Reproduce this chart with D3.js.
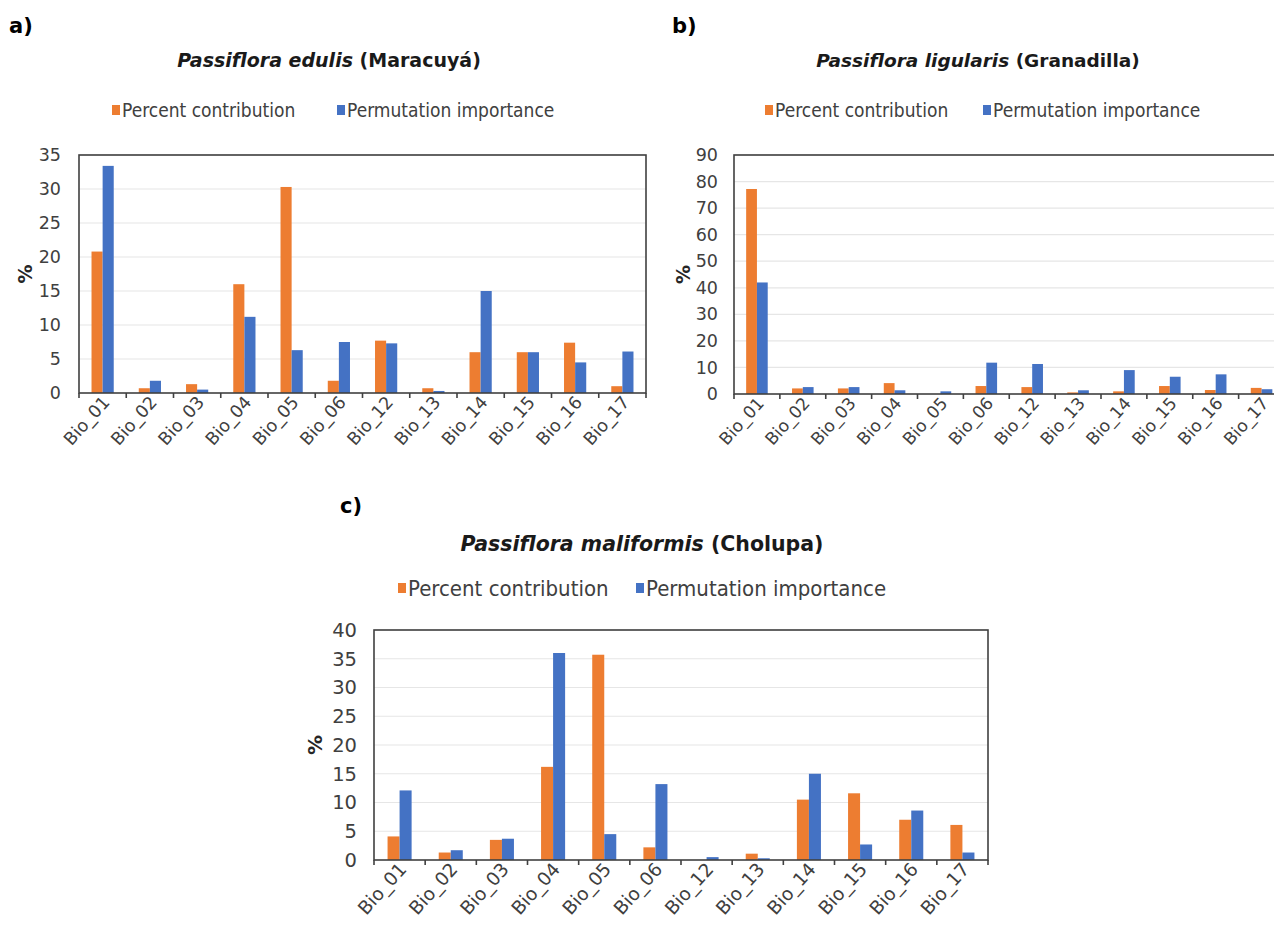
<!DOCTYPE html>
<html>
<head>
<meta charset="utf-8">
<script src="https://cdn.jsdelivr.net/npm/d3@7"></script>
<style>
  html, body { margin: 0; padding: 0; background: #ffffff; }
  svg { display: block; }
</style>
</head>
<body>
<svg id="chart" width="1274" height="932"></svg>
<script>
// ---------- DATA ----------
const categories = ["Bio_01","Bio_02","Bio_03","Bio_04","Bio_05","Bio_06","Bio_12","Bio_13","Bio_14","Bio_15","Bio_16","Bio_17"];
const seriesNames = ["Percent contribution", "Permutation importance"];

// a) Passiflora edulis (Maracuyá)
const edulisContribution = [20.8, 0.7, 1.3, 16.0, 30.3, 1.8, 7.7, 0.7, 6.0, 6.0, 7.4, 1.0];
const edulisPermutation  = [33.4, 1.8, 0.5, 11.2, 6.3, 7.5, 7.3, 0.3, 15.0, 6.0, 4.5, 6.1];
const edulisTicks = [0, 5, 10, 15, 20, 25, 30, 35];

// b) Passiflora ligularis (Granadilla)
const ligularisContribution = [77.2, 2.1, 2.1, 4.1, 0.0, 3.0, 2.6, 0.6, 1.0, 3.0, 1.5, 2.3];
const ligularisPermutation  = [42.0, 2.6, 2.6, 1.4, 1.0, 11.8, 11.3, 1.4, 9.0, 6.5, 7.4, 1.8];
const ligularisTicks = [0, 10, 20, 30, 40, 50, 60, 70, 80, 90];

// c) Passiflora maliformis (Cholupa)
const maliformisContribution = [4.1, 1.3, 3.5, 16.2, 35.7, 2.2, 0.0, 1.1, 10.5, 11.6, 7.0, 6.1];
const maliformisPermutation  = [12.1, 1.7, 3.7, 36.0, 4.5, 13.2, 0.5, 0.3, 15.0, 2.7, 8.6, 1.3];
const maliformisTicks = [0, 5, 10, 15, 20, 25, 30, 35, 40];

// ---------- STYLE ----------
const colors = ["#ED7D31", "#4472C4"];
const FONT = "'DejaVu Sans', Verdana, sans-serif";
const FONT_C = "'DejaVu Sans Condensed', 'DejaVu Sans', sans-serif";

const svg = d3.select("#chart");

function drawPanel(p) {
  const g = svg.append("g");
  const x = d3.scaleBand().domain(categories).range([p.left, p.right]).paddingInner(0).paddingOuter(0);
  const bw = x.bandwidth();
  const xs = d3.scaleBand().domain(seriesNames).range([bw * 0.265, bw * 0.735]).padding(0);
  const y = d3.scaleLinear().domain([0, d3.max(p.ticks)]).range([p.bottom, p.top]);

  // gridlines
  g.append("g").selectAll("line").data(p.ticks.filter(t => t > 0)).join("line")
    .attr("x1", p.left).attr("x2", p.right)
    .attr("y1", d => y(d)).attr("y2", d => y(d))
    .attr("stroke", "#e6e6e6").attr("stroke-width", 1.2);

  // bars
  const rows = categories.map((c, i) => ({ cat: c, vals: [p.contribution[i], p.permutation[i]] }));
  const grp = g.append("g").selectAll("g").data(rows).join("g")
    .attr("transform", d => `translate(${x(d.cat)},0)`);
  grp.selectAll("rect").data(d => d.vals.map((v, k) => ({ k, v }))).join("rect")
    .attr("x", d => xs(seriesNames[d.k]))
    .attr("width", xs.bandwidth())
    .attr("y", d => y(d.v))
    .attr("height", d => p.bottom - y(d.v))
    .attr("fill", d => colors[d.k]);

  // frame
  g.append("rect")
    .attr("x", p.left).attr("y", p.top)
    .attr("width", p.right - p.left).attr("height", p.bottom - p.top)
    .attr("fill", "none").attr("stroke", "#404040").attr("stroke-width", 1.6);

  // x ticks at band boundaries
  const bounds = categories.map(c => x(c)).concat([x.range()[1]]);
  g.append("g").selectAll("line").data(bounds).join("line")
    .attr("x1", d => d).attr("x2", d => d)
    .attr("y1", p.bottom).attr("y2", p.bottom + 5)
    .attr("stroke", "#404040").attr("stroke-width", 1.6);

  // x labels
  const xAxis = g.append("g").attr("transform", `translate(0,${p.bottom})`)
    .call(d3.axisBottom(x).tickSize(0).tickPadding(0));
  xAxis.select(".domain").remove();
  xAxis.selectAll("text")
    .attr("font-family", FONT).attr("font-size", p.xfs).attr("fill", "#404040")
    .attr("text-anchor", "end")
    .attr("y", 0).attr("dy", 0)
    .attr("transform", `translate(${p.xlx},${p.xly}) rotate(-48)`);

  // y axis labels
  const yAxis = g.append("g").attr("transform", `translate(${p.left},0)`)
    .call(d3.axisLeft(y).tickValues(p.ticks).tickSize(0).tickPadding(p.ypad).tickFormat(d3.format("d")));
  yAxis.select(".domain").remove();
  yAxis.selectAll("text").attr("font-family", FONT).attr("font-size", p.yfs).attr("fill", "#404040");

  // y title
  g.append("text")
    .attr("transform", `translate(${p.pctX},${(p.top + p.bottom) / 2}) rotate(-90)`)
    .attr("text-anchor", "middle").attr("dominant-baseline", "central")
    .attr("font-family", FONT).attr("font-weight", "bold").attr("font-size", p.pctfs)
    .attr("fill", "#262626").text("%");

  // panel letter
  g.append("text").attr("x", p.letterX).attr("y", p.letterY)
    .attr("font-family", FONT).attr("font-weight", "bold").attr("font-size", 21)
    .attr("fill", "#000").text(p.letter);

  // chart title
  const t = g.append("text").attr("x", p.titleX).attr("y", p.titleY)
    .attr("text-anchor", "middle")
    .attr("font-family", FONT).attr("font-weight", "bold").attr("font-size", p.titlefs).attr("fill", "#1a1a1a");
  t.append("tspan").attr("font-style", "italic").text(p.species);
  t.append("tspan").text(" " + p.common);

  // legend
  const lg = g.append("g");
  seriesNames.forEach((s, k) => {
    lg.append("rect").attr("x", p.legX[k]).attr("y", p.legY - 5)
      .attr("width", 8).attr("height", 10).attr("fill", colors[k]);
    lg.append("text").attr("x", p.legX[k] + 10).attr("y", p.legY)
      .attr("dominant-baseline", "central")
      .attr("font-family", FONT_C).attr("font-size", p.legfs).attr("fill", "#404040").text(s);
  });
}

drawPanel({
  letter: "a)", letterX: 9, letterY: 33,
  species: "Passiflora edulis", common: "(Maracuyá)", titleX: 329, titleY: 67, titlefs: 19,
  legX: [112, 337], legY: 110, legfs: 19,
  left: 79, right: 646, top: 155, bottom: 393,
  ticks: edulisTicks, contribution: edulisContribution, permutation: edulisPermutation,
  xfs: 17.5, xlx: 8, xly: 10, yfs: 17.5, ypad: 18, pctX: 25, pctfs: 19
});

drawPanel({
  letter: "b)", letterX: 672, letterY: 33,
  species: "Passiflora ligularis", common: "(Granadilla)", titleX: 978, titleY: 67, titlefs: 18.5,
  legX: [765, 983], legY: 110, legfs: 19,
  left: 734, right: 1284.5, top: 155, bottom: 394,
  ticks: ligularisTicks, contribution: ligularisContribution, permutation: ligularisPermutation,
  xfs: 17, xlx: 8, xly: 10, yfs: 17.5, ypad: 16, pctX: 683, pctfs: 19
});

drawPanel({
  letter: "c)", letterX: 340, letterY: 513,
  species: "Passiflora maliformis", common: "(Cholupa)", titleX: 642, titleY: 551, titlefs: 20.5,
  legX: [398, 636], legY: 588, legfs: 22,
  left: 374, right: 988, top: 630, bottom: 860,
  ticks: maliformisTicks, contribution: maliformisContribution, permutation: maliformisPermutation,
  xfs: 18.5, xlx: 8, xly: 10, yfs: 19.5, ypad: 17, pctX: 315, pctfs: 20
});
</script>
</body>
</html>
